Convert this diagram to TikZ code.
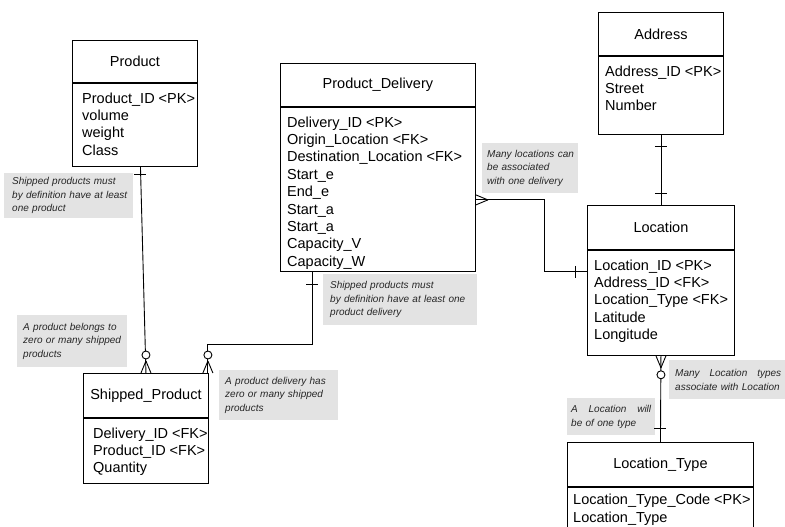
\documentclass[tikz,border=0pt]{standalone}
\usepackage{fontspec}
\setmainfont{Liberation Sans}
\usetikzlibrary{calc}
\definecolor{notegray}{HTML}{E3E3E3}
\begin{document}
\begin{tikzpicture}[x=1pt,y=-1pt,
  ent/.style={draw=black, line width=0.9pt, inner sep=0pt, anchor=north west, font=\fontsize{14.5}{17.4}\selectfont},
  attr/.style={inner sep=0pt, align=left, anchor=north west, font=\fontsize{14.5}{17.4}\selectfont},
  note/.style={fill=notegray, inner ysep=0pt, align=left, anchor=north west, font=\fontsize{10}{13.5}\selectfont\itshape, text=black!85},
  conn/.style={line width=0.9pt},
  zcirc/.style={circle, draw, fill=white, line width=0.9pt, minimum size=8pt, inner sep=0pt}
]
\useasboundingbox (0,0) rectangle (785,527);
\clip (0,0) rectangle (785,527);

% ---------- entities ----------
% Product
\node[ent, minimum width=125, minimum height=42] (prodH) at (72,40) {Product};
\node[ent, minimum width=125, minimum height=83] (prodB) at (prodH.south west) {};
\node[attr] (prodT) at ($(prodB.north west)+(10,9.5)$) {Product\_ID <PK>\\volume\\weight\\Class};

% Product_Delivery
\node[ent, minimum width=195, minimum height=43] (pdH) at (280,63) {Product\_Delivery};
\node[ent, minimum width=195, minimum height=164] (pdB) at (pdH.south west) {};
\node[attr] (pdT) at ($(pdB.north west)+(7,9.5)$) {Delivery\_ID <PK>\\Origin\_Location <FK>\\Destination\_Location <FK>\\Start\_e\\End\_e\\Start\_a\\Start\_a\\Capacity\_V\\Capacity\_W};

% Shipped_Product
\node[ent, minimum width=125, minimum height=44] (shipH) at (83,373) {Shipped\_Product};
\node[ent, minimum width=125, minimum height=65] (shipB) at (shipH.south west) {};
\node[attr] (shipT) at ($(shipB.north west)+(10,9.5)$) {Delivery\_ID <FK>\\Product\_ID <FK>\\Quantity};

% Address
\node[ent, minimum width=125, minimum height=43] (addrH) at (598,12) {Address};
\node[ent, minimum width=125, minimum height=78] (addrB) at (addrH.south west) {};
\node[attr] (addrT) at ($(addrB.north west)+(7,9.5)$) {Address\_ID <PK>\\Street\\Number};

% Location
\node[ent, minimum width=147, minimum height=44] (locH) at (587,205) {Location};
\node[ent, minimum width=147, minimum height=105] (locB) at (locH.south west) {};
\node[attr] (locT) at ($(locB.north west)+(7,9.5)$) {Location\_ID <PK>\\Address\_ID <FK>\\Location\_Type <FK>\\Latitude\\Longitude};

% Location_Type
\node[ent, minimum width=186, minimum height=44] (ltH) at (567,442) {Location\_Type};
\node[ent, minimum width=186, minimum height=70] (ltB) at (ltH.south west) {};
\node[attr] (ltT) at ($(ltB.north west)+(6,7)$) {Location\_Type\_Code <PK>\\Location\_Type};

% ---------- notes ----------
\node[note, inner xsep=8pt, text width=113pt, minimum height=45pt] (n1) at (4,173) {\mbox{Shipped products must}\\\mbox{by definition have at least}\\\mbox{one product}};
\node[note, inner xsep=6pt, text width=98pt, minimum height=52pt] (n2) at (17,315) {\mbox{A product belongs to}\\\mbox{zero or many shipped}\\\mbox{products}};
\node[note, inner xsep=6pt, text width=107pt, minimum height=50pt] (n3) at (219,370) {\mbox{A product delivery has}\\\mbox{zero or many shipped}\\\mbox{products}};
\node[note, inner xsep=7pt, text width=140pt, minimum height=51pt] (n4) at (323,274) {\mbox{Shipped products must}\\\mbox{by definition have at least one}\\\mbox{product delivery}};
\node[note, inner xsep=5pt, text width=86pt, minimum height=50pt] (n5) at (482,143) {\mbox{Many locations can}\\\mbox{be associated}\\\mbox{with one delivery}};
\node[note, inner xsep=6pt, text width=106pt, minimum height=39pt] (n6) at (669,360) {\hbox to 106pt{Many\hfill Location\hfill types}\\\mbox{associate with Location}};
\node[note, inner xsep=4pt, text width=80pt, minimum height=37pt] (n7) at (567,398) {\hbox to 80pt{A\hfill Location\hfill will}\\\mbox{be of one type}};

% ---------- connectors ----------
% Product -- Shipped_Product
\coordinate (p1) at ([xshift=5.5pt]prodB.south);
\coordinate (p2) at (shipH.north);
\draw[conn] (p1) -- (p2);
\draw[conn] ($(p1)+(-6,8)$) -- ($(p1)+(6,8)$);
\draw[conn] ($(p2)+(0,-12)$) -- ($(p2)+(-5,0)$);
\draw[conn] ($(p2)+(0,-12)$) -- ($(p2)+(5,0)$);
\node[zcirc] (z1) at ($(p2)+(0,-18)$) {};

% Product_Delivery -- Shipped_Product
\coordinate (q1) at ($(pdB.south west)+(32,0)$);
\coordinate (q2) at ([xshift=-1pt]shipH.north east);
\draw[conn] (q1) -- ++(0,73) -| (q2);
\draw[conn] ($(q1)+(-6,13)$) -- ($(q1)+(6,13)$);
\draw[conn] ($(q2)+(0,-12)$) -- ($(q2)+(-5,0)$);
\draw[conn] ($(q2)+(0,-12)$) -- ($(q2)+(5,0)$);
\node[zcirc] (z2) at ($(q2)+(0,-18)$) {};

% Product_Delivery -- Location
\coordinate (r1) at ($(pdB.north east)+(0,93)$);
\coordinate (r2) at ($(locB.north west)+(0,22)$);
\draw[conn] (r1) -- ++(69,0) |- (r2);
\draw[conn] ($(r1)+(12,0)$) -- ($(r1)+(0,-5)$);
\draw[conn] ($(r1)+(12,0)$) -- ($(r1)+(0,5)$);
\draw[conn] ($(r2)+(-12,-6)$) -- ($(r2)+(-12,6)$);

% Address -- Location
\draw[conn] (addrB.south) -- (locH.north);
\draw[conn] ($(addrB.south)+(-6,12)$) -- ($(addrB.south)+(6,12)$);
\draw[conn] ($(locH.north)+(-6,-12)$) -- ($(locH.north)+(6,-12)$);

% Location -- Location_Type
\draw[conn] (locB.south) -- (ltH.north);
\draw[conn] ($(locB.south)+(0,12)$) -- ($(locB.south)+(-5,0)$);
\draw[conn] ($(locB.south)+(0,12)$) -- ($(locB.south)+(5,0)$);
\node[zcirc] (z3) at ($(locB.south)+(0,19)$) {};
\draw[conn] ($(ltH.north)+(-6,-14)$) -- ($(ltH.north)+(6,-14)$);
\end{tikzpicture}
\end{document}
